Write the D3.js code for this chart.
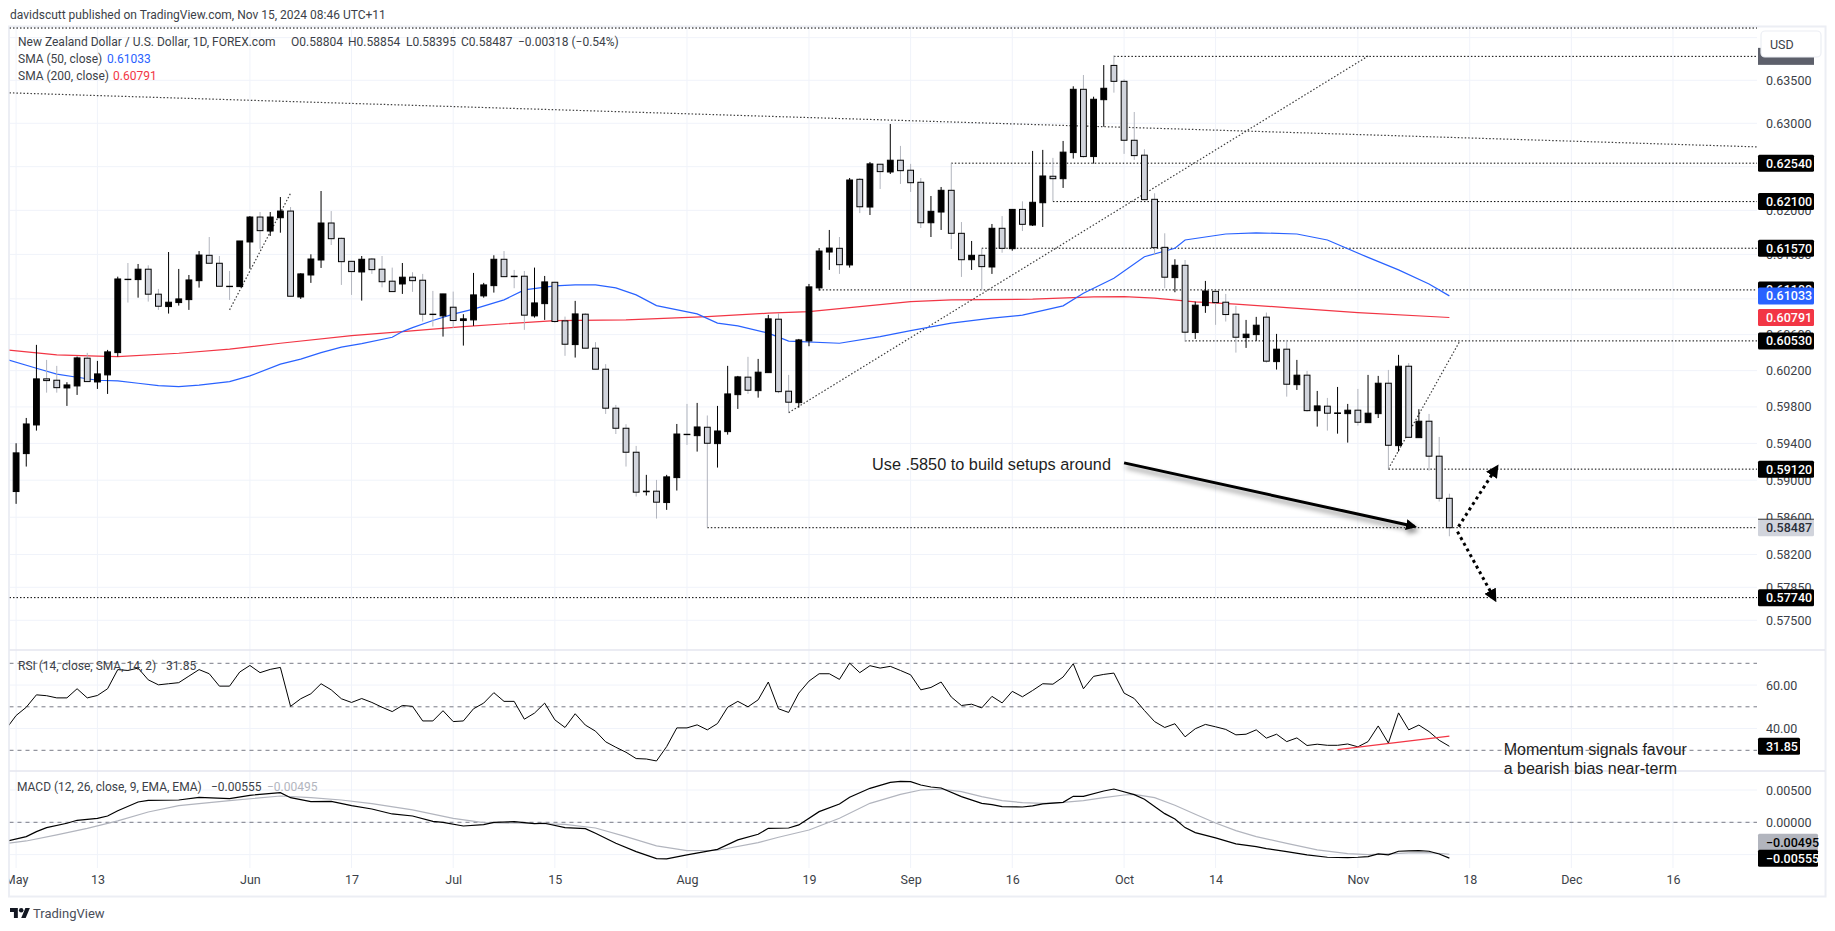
<!DOCTYPE html>
<html>
<head>
<meta charset="utf-8">
<title>NZD/USD</title>
<script src="https://cdn.jsdelivr.net/npm/d3@7/dist/d3.min.js"></script>
<style>
html, body { margin: 0; padding: 0; background: #fff; }
svg { display: block; }
text { font-family: Roboto, sans-serif; }
</style>
</head>
<body>
<svg id="chart" width="1835" height="931"></svg>
<script>
// daily candles, bar 0 = May 1 2024
var barOpen = [
	0.58877,0.59289,0.59602,0.60109,0.60094,0.60009,0.60031,0.60338,0.60075,0.60153,
	0.60400,0.61220,0.61216,0.61333,0.61052,0.60913,0.60958,0.60991,0.61204,0.61490,
	0.61400,0.61141,0.61137,0.61641,0.61924,0.61765,0.61916,0.61992,0.61021,0.61268,
	0.61437,0.61856,0.61682,0.61422,0.61302,0.61448,0.61333,0.61198,0.61167,0.61243,
	0.61209,0.60828,0.60809,0.60906,0.60757,0.60764,0.61033,0.61148,0.61445,0.61254,
	0.61254,0.60809,0.60946,0.61186,0.60753,0.60489,0.60828,0.60449,0.60216,0.59786,
	0.59566,0.59304,0.58875,0.58881,0.58758,0.59028,0.59500,0.59485,0.59577,0.59398,
	0.59529,0.59935,0.60128,0.59979,0.60178,0.60772,0.59973,0.59847,0.60530,0.61123,
	0.61527,0.61569,0.61381,0.62355,0.62038,0.62528,0.62439,0.62574,0.62459,0.62321,
	0.61859,0.61981,0.62229,0.61739,0.61440,0.61490,0.61358,0.61796,0.61565,0.62011,
	0.61833,0.62087,0.62390,0.62362,0.62662,0.63395,0.62616,0.63274,0.63674,0.63488,
	0.62804,0.62632,0.62126,0.61580,0.61238,0.61377,0.60623,0.60924,0.61084,0.60962,
	0.60828,0.60567,0.60600,0.60795,0.60300,0.60438,0.60045,0.60150,0.59759,0.59808,
	0.59728,0.59726,0.59764,0.59627,0.59726,0.60061,0.59376,0.60249,0.59463,0.59643,
	0.59261,0.58804
];
var barHigh = [
	0.59402,0.59679,0.60486,0.60319,0.60253,0.60072,0.60356,0.60397,0.60308,0.60430,
	0.61249,0.61403,0.61392,0.61377,0.61111,0.61527,0.61336,0.61268,0.61538,0.61697,
	0.61482,0.61313,0.61652,0.61935,0.61981,0.61981,0.62152,0.62038,0.61288,0.61501,
	0.62221,0.61992,0.61690,0.61426,0.61482,0.61460,0.61482,0.61351,0.61403,0.61299,
	0.61280,0.61089,0.61055,0.61081,0.60828,0.61291,0.61179,0.61490,0.61538,0.61325,
	0.61313,0.61351,0.61257,0.61190,0.60801,0.60977,0.60839,0.60516,0.60272,0.59822,
	0.59610,0.59373,0.59058,0.59003,0.59058,0.59613,0.59833,0.59844,0.59706,0.59811,
	0.60253,0.60142,0.60353,0.60330,0.60820,0.60839,0.60153,0.60552,0.61167,0.61572,
	0.61777,0.61697,0.62370,0.62370,0.62554,0.62532,0.62992,0.62739,0.62532,0.62370,
	0.62164,0.62267,0.62539,0.61867,0.61652,0.61569,0.61845,0.61935,0.62015,0.62103,
	0.62681,0.62693,0.62601,0.62796,0.63430,0.63562,0.63309,0.63678,0.63791,0.63512,
	0.63131,0.62701,0.62195,0.61739,0.61445,0.61437,0.60969,0.61201,0.61089,0.61055,
	0.60921,0.60764,0.60798,0.60846,0.60608,0.60541,0.60319,0.60197,0.59976,0.59899,
	0.60020,0.59833,0.59998,0.60153,0.60142,0.60208,0.60375,0.60283,0.59775,0.59723,
	0.59471,0.58854
];
var barLow = [
	0.58744,0.59148,0.59540,0.59957,0.59957,0.59811,0.59932,0.60075,0.59998,0.59943,
	0.60356,0.60958,0.61013,0.60969,0.60876,0.60835,0.60924,0.60876,0.61126,0.61400,
	0.61141,0.60988,0.61137,0.61339,0.61563,0.61709,0.61746,0.61029,0.60999,0.61179,
	0.61347,0.61606,0.61156,0.61044,0.60980,0.61280,0.61129,0.61081,0.61055,0.61078,
	0.60746,0.60690,0.60578,0.60675,0.60478,0.60698,0.61013,0.61070,0.61249,0.61119,
	0.60653,0.60790,0.60764,0.60731,0.60364,0.60345,0.60449,0.60216,0.59723,0.59503,
	0.59148,0.58823,0.58834,0.58585,0.58679,0.58888,0.59384,0.59311,0.58490,0.59137,
	0.59496,0.59778,0.59943,0.59902,0.60178,0.59951,0.59737,0.59792,0.60471,0.61092,
	0.61325,0.61280,0.61351,0.61969,0.61947,0.62244,0.62416,0.62302,0.62210,0.61799,
	0.61697,0.61777,0.61561,0.61246,0.61325,0.61100,0.61280,0.61519,0.61542,0.61765,
	0.61822,0.61811,0.62103,0.62256,0.62593,0.62604,0.62535,0.62961,0.63356,0.62647,
	0.62578,0.62118,0.61493,0.61119,0.61074,0.60522,0.60552,0.60843,0.60709,0.60746,
	0.60400,0.60452,0.60530,0.60289,0.60212,0.59913,0.59987,0.59748,0.59584,0.59540,
	0.59507,0.59409,0.59595,0.59627,0.59678,0.59123,0.59311,0.59467,0.59463,0.59104,
	0.58769,0.58395
];
var barClose = [
	0.59297,0.59613,0.60109,0.60090,0.60012,0.60042,0.60341,0.60079,0.60164,0.60408,
	0.61223,0.61216,0.61333,0.61052,0.60917,0.60962,0.60999,0.61212,0.61493,0.61400,
	0.61141,0.61137,0.61652,0.61924,0.61769,0.61924,0.61992,0.61029,0.61280,0.61448,
	0.61856,0.61678,0.61418,0.61306,0.61445,0.61328,0.61192,0.61081,0.61243,0.61204,
	0.60828,0.60824,0.61055,0.60757,0.60776,0.61044,0.61156,0.61445,0.61249,0.61249,
	0.60817,0.60954,0.61190,0.60746,0.60493,0.60831,0.60449,0.60216,0.59786,0.59566,
	0.59304,0.58870,0.58881,0.58762,0.59036,0.59503,0.59496,0.59580,0.59402,0.59536,
	0.59943,0.60131,0.59984,0.60183,0.60776,0.59968,0.59852,0.60541,0.61134,0.61538,
	0.61572,0.61384,0.62347,0.62041,0.62532,0.62443,0.62574,0.62454,0.62316,0.61859,
	0.61989,0.62229,0.61739,0.61440,0.61490,0.61362,0.61796,0.61569,0.62011,0.61841,
	0.62092,0.62393,0.62362,0.62667,0.63395,0.62616,0.63279,0.63407,0.63488,0.62804,
	0.62627,0.62122,0.61576,0.61243,0.61377,0.60627,0.60929,0.61088,0.60958,0.60824,
	0.60571,0.60605,0.60705,0.60305,0.60438,0.60050,0.60150,0.59759,0.59811,0.59731,
	0.59734,0.59764,0.59632,0.59731,0.60061,0.59380,0.60249,0.59467,0.59643,0.59261,
	0.58804,0.58487
];

var sma50Bars = [-1,2,4,6,8,10,12,14,16,18,21,23,26,28,30,32,34,37,38,39,41,43,45,48,50,53,55,57,59,61,63,67,69,71,74,76,81,85,88,92,96,99,103,105,108,111,114,115,119,122,126,129,133,136,139,141];
var sma50Vals = [0.60327,0.60227,0.60161,0.60127,0.60094,0.60087,0.60061,0.60034,0.60023,0.60039,0.60079,0.60142,0.60272,0.60327,0.60400,0.60460,0.60500,0.60571,0.60634,0.60678,0.60757,0.60828,0.60884,0.60988,0.61100,0.61145,0.61156,0.61156,0.61123,0.61044,0.60924,0.60831,0.60728,0.60698,0.60617,0.60527,0.60504,0.60578,0.60645,0.60728,0.60783,0.60817,0.60921,0.61063,0.61231,0.61474,0.61569,0.61663,0.61731,0.61745,0.61731,0.61663,0.61466,0.61325,0.61167,0.61033];
var sma200Bars = [-1,4,8,10,16,21,26,33,38,44,53,60,68,74,78,83,88,92,100,106,109,112,116,120,125,132,141];
var sma200Vals = [0.60430,0.60375,0.60361,0.60356,0.60393,0.60438,0.60504,0.60589,0.60634,0.60690,0.60757,0.60764,0.60801,0.60839,0.60857,0.60913,0.60969,0.60988,0.60996,0.61021,0.61025,0.61007,0.60965,0.60940,0.60902,0.60846,0.60791];

// first RSI value belongs to the bar before bar 0
var rsiVals = [
	39.7,46.0,49.8,55.5,55.1,54.1,54.1,58.3,54.1,55.2,58.3,67.1,66.7,67.8,62.4,60.1,60.6,61.1,64.1,67.1,
	65.2,59.5,59.5,66.0,69.0,65.7,67.2,68.1,50.2,53.7,56.0,60.6,57.8,53.7,52.0,53.8,52.0,49.8,47.8,50.6,
	50.2,43.5,43.5,48.2,43.2,43.5,49.1,51.7,56.5,52.5,52.5,44.3,47.1,51.7,44.0,40.5,46.8,41.6,38.8,33.9,
	31.4,29.1,26.2,26.0,25.1,31.7,40.3,40.3,41.7,39.4,42.3,49.8,52.5,50.0,53.2,61.4,49.1,47.4,56.3,61.8,
	65.2,65.2,62.6,70.1,65.7,68.9,67.8,68.6,66.7,64.7,57.8,58.9,61.4,54.5,50.6,51.2,49.5,54.8,51.8,57.1,
	54.6,57.5,60.6,60.4,63.7,69.8,58.3,64.0,64.9,65.5,56.3,53.8,48.3,43.2,40.5,42.2,36.2,39.9,41.9,40.8,
	39.6,37.1,37.4,39.4,35.6,37.4,34.0,35.7,32.2,32.8,32.3,32.3,32.9,31.6,34.0,41.2,33.3,47.2,39.4,41.6,
	38.6,34.6,31.85
];
var macdBars = [-1,1,2,3,5,6,8,9,10,12,13,16,18,21,23,26,27,29,31,33,35,37,39,41,42,44,46,47,49,51,52,54,56,57,59,61,63,64,66,69,71,73,74,76,77,79,81,82,84,86,87,88,89,90,91,93,95,96,97,99,100,101,103,104,105,107,108,110,111,113,114,115,116,118,120,122,123,125,127,129,131,132,133,134,135,136,137,138,139,140,141];
var macdVals = [-0.00294,-0.00222,-0.00144,-0.00082,-0.00015,0.00031,0.00062,0.00098,0.00180,0.00314,0.00340,0.00345,0.00387,0.00366,0.00418,0.00459,0.00381,0.00320,0.00325,0.00258,0.00206,0.00129,0.00098,0.00015,0,-0.00057,-0.00036,0,0.00010,-0.00021,-0.00015,-0.00082,-0.00098,-0.00170,-0.00325,-0.00454,-0.00562,-0.00567,-0.00505,-0.00418,-0.00273,-0.00186,-0.00093,-0.00088,-0.00041,0.00165,0.00284,0.00387,0.00526,0.00619,0.00634,0.00629,0.00577,0.00546,0.00531,0.00397,0.00294,0.00273,0.00242,0.00237,0.00253,0.00284,0.00309,0.00402,0.00402,0.00485,0.00515,0.00428,0.00356,0.00134,0.00052,-0.00082,-0.00160,-0.00242,-0.00335,-0.00376,-0.00407,-0.00454,-0.00505,-0.00541,-0.00546,-0.00541,-0.00531,-0.00490,-0.00505,-0.00448,-0.00443,-0.00438,-0.00448,-0.00490,-0.00555];
var signalBars = [-1,1,4,7,10,13,16,21,26,29,32,35,39,43,46,50,54,57,60,63,66,69,73,75,78,81,84,87,89,91,93,95,97,99,101,103,105,107,109,110,112,114,116,118,120,122,125,128,131,133,135,137,139,141];
var signalVals = [-0.00330,-0.00289,-0.00196,-0.00093,0.00021,0.00160,0.00258,0.00335,0.00407,0.00381,0.00345,0.00289,0.00191,0.00062,-0.00005,-0.00015,-0.00031,-0.00088,-0.00222,-0.00366,-0.00438,-0.00433,-0.00314,-0.00232,-0.00119,0.00062,0.00294,0.00433,0.00500,0.00515,0.00474,0.00397,0.00335,0.00304,0.00294,0.00309,0.00335,0.00381,0.00423,0.00433,0.00381,0.00263,0.00124,-0.00010,-0.00129,-0.00222,-0.00325,-0.00428,-0.00485,-0.00500,-0.00490,-0.00474,-0.00469,-0.00495];

var priceGrid = [0.64,0.635,0.63,0.625,0.62,0.615,0.61,0.606,0.602,0.598,0.594,0.59,0.586,0.582,0.5785,0.575];
var priceTicks = [0.635,0.63,0.62,0.615,0.61,0.606,0.602,0.598,0.594,0.59,0.586,0.582,0.5785,0.575];
var rsiTicks = [60,40];
var rsiBands = [70,50,30];
var macdGrid = [0.005,0,-0.005];
var macdTicks = [0.005,0];
var timeTickBars = [0,8,23,33,43,53,66,78,88,98,109,118,132,143,153,163];
var timeTickLabels = ["May","13","Jun","17","Jul","15","Aug","19","Sep","16","Oct","14","Nov","18","Dec","16"];

// horizontal levels drawn on the chart, from a start bar to the axis
var levelPrices = [0.6254,0.621,0.6157,0.611,0.6053,0.5912,0.5774];
var levelStarts = [92,102,95,79,115,135,-1];
var plainLevelPrices = [0.64113,0.6378,0.58487];
var plainLevelStarts = [-1,108,68];

// sloped lines: [bar, price, bar, price]
var trendLines = [
	[-1,0.63355,172,0.62725],
	[21,0.60876,27,0.62195],
	[76,0.59737,133,0.63783],
	[135,0.59123,142,0.60522]
];
var rsiTrend = [130,30.3,141,36.5];
var noteBar = 84.2;
var notePrice = 0.59177;
var solidArrow = [109,0.59188,137.6,0.58499];
var dottedArrows = [
	[141.9,0.58499,145.7,0.59148],
	[141.8,0.58445,145.5,0.57716]
];

var lastSma50 = 0.61033;
var lastSma200 = 0.60791;
var lastClose = 0.58487;
var lastRsi = 31.85;
var lastMacd = -0.00555;
var lastSignal = -0.00495;

var svg = d3.select("#chart");
var paneLeft = 9.5, paneRight = 1757, paneTop = 27, priceBottom = 650, rsiBottom = 771, macdBottom = 868, frameBottom = 896, frameRight = 1825;

var x = d3.scaleLinear().domain([0,163]).range([16.1, 16.1+163*10.165]);
var y = d3.scaleLog().domain([0.635,0.575]).range([80.3,620.3]);
var yRsi = d3.scaleLinear().domain([70,30]).range([663.3,750.3]);
var yMacd = d3.scaleLinear().domain([0.005,-0.005]).range([790,854.6]);

var defs = svg.append("defs");
function addClip(id, top, bottom) {
	defs.append("clipPath").attr("id", id).append("rect")
		.attr("x", paneLeft).attr("y", top)
		.attr("width", paneRight-paneLeft).attr("height", bottom-top);
}
addClip("clipPrice", paneTop, priceBottom);
addClip("clipRsi", priceBottom, rsiBottom);
addClip("clipMacd", rsiBottom, macdBottom);

var shadow = defs.append("filter").attr("id", "shadow")
	.attr("x", "-10%").attr("y", "-50%").attr("width", "120%").attr("height", "220%");
shadow.append("feDropShadow").attr("dx", 2).attr("dy", 4).attr("stdDeviation", 2.5)
	.attr("flood-color", "#000").attr("flood-opacity", 0.45);

function arrowMarker(id, size) {
	defs.append("marker").attr("id", id)
		.attr("viewBox", "0 0 10 10").attr("refX", 8).attr("refY", 5)
		.attr("markerUnits", "userSpaceOnUse")
		.attr("markerWidth", size).attr("markerHeight", size)
		.attr("orient", "auto")
		.append("path").attr("d", "M0,0L10,5L0,10z").attr("fill", "#000");
}
arrowMarker("headSolid", 11);
arrowMarker("headDotted", 13);

// grid
var gridColor = "#f0f3fa";
var grid = svg.append("g");
grid.selectAll("line.v").data(timeTickBars).enter().append("line")
	.attr("x1", function(d) { return x(d); }).attr("x2", function(d) { return x(d); })
	.attr("y1", paneTop).attr("y2", macdBottom)
	.attr("stroke", gridColor).attr("stroke-width", 1);
function hGrid(values, scale) {
	grid.selectAll(null).data(values).enter().append("line")
		.attr("x1", paneLeft).attr("x2", paneRight)
		.attr("y1", function(d) { return scale(d); }).attr("y2", function(d) { return scale(d); })
		.attr("stroke", gridColor).attr("stroke-width", 1);
}
hGrid(priceGrid, y);
hGrid(rsiTicks, yRsi);
hGrid(macdGrid, yMacd);

// outer frame and pane dividers
var frameColor = "#eceef4";
svg.append("rect").attr("x", paneLeft-0.5).attr("y", paneTop-0.5)
	.attr("width", frameRight-paneLeft+1).attr("height", frameBottom-paneTop+1)
	.attr("fill", "none").attr("stroke", frameColor).attr("stroke-width", 2);
[priceBottom, rsiBottom].forEach(function(d) {
	svg.append("line").attr("x1", paneLeft).attr("x2", frameRight).attr("y1", d).attr("y2", d)
		.attr("stroke", "#e4e6ef").attr("stroke-width", 1.5);
});

// price pane
var pricePane = svg.append("g").attr("clip-path", "url(#clipPrice)");

function drawLevels(prices, starts) {
	pricePane.selectAll(null).data(prices).enter().append("line")
		.attr("x1", function(d, i) { return Math.max(x(starts[i]), paneLeft); })
		.attr("x2", paneRight)
		.attr("y1", function(d) { return y(d); }).attr("y2", function(d) { return y(d); })
		.attr("stroke", "#000").attr("stroke-width", 1).attr("stroke-dasharray", "1.5 2");
}
drawLevels(levelPrices, levelStarts);
drawLevels(plainLevelPrices, plainLevelStarts);

pricePane.selectAll("line.trend").data(trendLines).enter().append("line")
	.attr("x1", function(d) { return x(d[0]); }).attr("y1", function(d) { return y(d[1]); })
	.attr("x2", function(d) { return x(d[2]); }).attr("y2", function(d) { return y(d[3]); })
	.attr("stroke", "#3c3c3c").attr("stroke-width", 1.2).attr("stroke-dasharray", "1.5 2");

var lineGen = d3.line();
function pathOf(bars, vals, scale) {
	return lineGen(bars.map(function(b, i) { return [x(b), scale(vals[i])]; }));
}
pricePane.append("path").attr("d", pathOf(sma200Bars, sma200Vals, y))
	.attr("fill", "none").attr("stroke", "#F23645").attr("stroke-width", 1.2);
pricePane.append("path").attr("d", pathOf(sma50Bars, sma50Vals, y))
	.attr("fill", "none").attr("stroke", "#2962FF").attr("stroke-width", 1.2);

// candles
var candles = pricePane.selectAll("g.candle").data(barOpen).enter().append("g")
	.attr("class", "candle");
candles.append("line")
	.attr("x1", function(d, i) { return x(i); }).attr("x2", function(d, i) { return x(i); })
	.attr("y1", function(d, i) { return y(barHigh[i]); })
	.attr("y2", function(d, i) { return y(barLow[i]); })
	.attr("stroke", function(d, i) { return barClose[i] >= d ? "#000" : "#b2b5be"; })
	.attr("stroke-width", 1);
candles.append("rect")
	.attr("x", function(d, i) { return x(i)-2.9; })
	.attr("width", 5.8)
	.attr("y", function(d, i) { return y(Math.max(d, barClose[i])); })
	.attr("height", function(d, i) { return Math.abs(y(d)-y(barClose[i])); })
	.attr("fill", function(d, i) { return barClose[i] >= d ? "#000" : "#d1d4dc"; })
	.attr("stroke", "#000").attr("stroke-width", 1);

// annotations on the price pane
pricePane.append("text").attr("x", x(noteBar)).attr("y", y(notePrice))
	.attr("dy", "0.35em").attr("fill", "#1e1e1e")
	.style("font-family", "'Liberation Sans', Arial, sans-serif").style("font-size", "16.3px")
	.text("Use .5850 to build setups around");
pricePane.append("line")
	.attr("x1", x(solidArrow[0])).attr("y1", y(solidArrow[1]))
	.attr("x2", x(solidArrow[2])).attr("y2", y(solidArrow[3]))
	.attr("stroke", "#000").attr("stroke-width", 3)
	.attr("marker-end", "url(#headSolid)").attr("filter", "url(#shadow)");
pricePane.selectAll("line.dotarrow").data(dottedArrows).enter().append("line")
	.attr("x1", function(d) { return x(d[0]); }).attr("y1", function(d) { return y(d[1]); })
	.attr("x2", function(d) { return x(d[2]); }).attr("y2", function(d) { return y(d[3]); })
	.attr("stroke", "#000").attr("stroke-width", 3).attr("stroke-dasharray", "3 3.5")
	.attr("marker-end", "url(#headDotted)");

// RSI pane
var rsiPane = svg.append("g").attr("clip-path", "url(#clipRsi)");
rsiPane.selectAll("line.band").data(rsiBands).enter().append("line")
	.attr("x1", paneLeft).attr("x2", paneRight)
	.attr("y1", function(d) { return yRsi(d); }).attr("y2", function(d) { return yRsi(d); })
	.attr("stroke", "#787b86").attr("stroke-width", 1).attr("stroke-dasharray", "4 4");
rsiPane.append("path")
	.attr("d", pathOf(rsiVals.map(function(d, i) { return i-1; }), rsiVals, yRsi))
	.attr("fill", "none").attr("stroke", "#000").attr("stroke-width", 1);
rsiPane.append("line")
	.attr("x1", x(rsiTrend[0])).attr("y1", yRsi(rsiTrend[1]))
	.attr("x2", x(rsiTrend[2])).attr("y2", yRsi(rsiTrend[3]))
	.attr("stroke", "#F23645").attr("stroke-width", 1.2);

// MACD pane
var macdPane = svg.append("g").attr("clip-path", "url(#clipMacd)");
macdPane.append("line").attr("x1", paneLeft).attr("x2", paneRight)
	.attr("y1", yMacd(0)).attr("y2", yMacd(0))
	.attr("stroke", "#787b86").attr("stroke-width", 1).attr("stroke-dasharray", "4 4");
macdPane.append("path").attr("d", pathOf(signalBars, signalVals, yMacd))
	.attr("fill", "none").attr("stroke", "#b2b5be").attr("stroke-width", 1.2);
macdPane.append("path").attr("d", pathOf(macdBars, macdVals, yMacd))
	.attr("fill", "none").attr("stroke", "#000").attr("stroke-width", 1.2);

// right and bottom axes
var axisColor = "#3c3f48";
var axisFont = "12.5px";
var axisX = 1766;
function styleAxis(g) {
	g.select(".domain").remove();
	g.selectAll("text").attr("fill", axisColor).style("font-size", axisFont);
}
svg.append("g").attr("transform", "translate("+axisX+",0)")
	.call(d3.axisRight(y).tickValues(priceTicks).tickSize(0).tickPadding(0).tickFormat(d3.format(".5f")))
	.call(styleAxis);
svg.append("g").attr("transform", "translate("+axisX+",0)")
	.call(d3.axisRight(yRsi).tickValues(rsiTicks).tickSize(0).tickPadding(0).tickFormat(d3.format(".2f")))
	.call(styleAxis);
svg.append("g").attr("transform", "translate("+axisX+",0)")
	.call(d3.axisRight(yMacd).tickValues(macdTicks).tickSize(0).tickPadding(0).tickFormat(d3.format(".5f")))
	.call(styleAxis);

defs.append("clipPath").attr("id", "clipTime").append("rect")
	.attr("x", paneLeft).attr("y", 0).attr("width", frameRight-paneLeft).attr("height", 20);
svg.append("g").attr("transform", "translate(0,875)")
	.attr("clip-path", "url(#clipTime)")
	.call(d3.axisBottom(x).tickValues(timeTickBars).tickSize(0).tickPadding(0)
		.tickFormat(function(d, i) { return timeTickLabels[i]; }))
	.call(styleAxis);

// value labels on the axis, shift moves a box clear of its neighbour
function axisBox(value, scale, fill, textFill, label, boxWidth, shift) {
	var cy = scale(value)+(shift || 0);
	svg.append("rect").attr("x", 1758).attr("y", cy-8.5).attr("width", boxWidth).attr("height", 17)
		.attr("rx", 1.5).attr("fill", fill);
	svg.append("text").attr("x", axisX).attr("y", cy).attr("dy", "0.36em")
		.attr("fill", textFill).style("font-size", axisFont).style("font-weight", 500)
		.text(label);
}
var fmtPrice = d3.format(".5f");
// the label of the top level only peeks out from under the USD button
svg.append("rect").attr("x", 1758).attr("y", y(0.6378)-8.5).attr("width", 56).attr("height", 17)
	.attr("fill", "#5d606b");
levelPrices.forEach(function(d) {
	axisBox(d, y, "#000", "#fff", fmtPrice(d), 56);
});
axisBox(lastSma50, y, "#2962FF", "#fff", fmtPrice(lastSma50), 56);
axisBox(lastSma200, y, "#F23645", "#fff", fmtPrice(lastSma200), 56);
axisBox(lastClose, y, "#d1d4dc", "#2a2e39", fmtPrice(lastClose), 56);
svg.append("line").attr("x1", 1758).attr("x2", 1814).attr("y1", y(lastClose)-8.5).attr("y2", y(lastClose)-8.5)
	.attr("stroke", "#000").attr("stroke-width", 0.8);
axisBox(lastRsi, yRsi, "#000", "#fff", d3.format(".2f")(lastRsi), 42);
axisBox(lastSignal, yMacd, "#b2b5be", "#000", fmtPrice(lastSignal), 60, -12);
axisBox(lastMacd, yMacd, "#000", "#fff", fmtPrice(lastMacd), 60);

// USD button
svg.append("rect").attr("x", 1761).attr("y", 31).attr("width", 60).attr("height", 26).attr("rx", 4)
	.attr("fill", "#fff").attr("stroke", "#eceef4").attr("stroke-width", 1.2);
svg.append("text").attr("x", 1770).attr("y", 44).attr("dy", "0.36em")
	.attr("fill", axisColor).style("font-size", axisFont).text("USD");

// legend text
function legend(parts, ty) {
	parts.forEach(function(p) {
		svg.append("text").attr("x", p[0]).attr("y", ty).attr("dy", "0.36em")
			.attr("fill", p[2] || axisColor).style("font-size", "12px").text(p[1]);
	});
}
legend([[10,"davidscutt published on TradingView.com, Nov 15, 2024 08:46 UTC+11"]], 15);
legend([[18,"New Zealand Dollar / U.S. Dollar, 1D, FOREX.com"],[291,"O0.58804"],[348,"H0.58854"],[406,"L0.58395"],[461,"C0.58487"],[518,"\u22120.00318 (\u22120.54%)"]], 41.7);
legend([[18,"SMA (50, close)"],[107,"0.61033","#2962FF"]], 58.7);
legend([[18,"SMA (200, close)"],[113,"0.60791","#F23645"]], 76);
legend([[18,"RSI (14, close, SMA, 14, 2)"],[166,"31.85"]], 665.7);
legend([[17,"MACD (12, 26, close, 9, EMA, EMA)"],[211,"\u22120.00555"],[267,"\u22120.00495","#b2b5be"]], 786.7);

// momentum note sits across the RSI and MACD divider
var noteX = 1503.7;
["Momentum signals favour","a bearish bias near-term"].forEach(function(t, i) {
	svg.append("text").attr("x", noteX).attr("y", 749.3+i*19.4).attr("dy", "0.35em")
		.attr("fill", "#1e1e1e")
		.style("font-family", "'Liberation Sans', Arial, sans-serif").style("font-size", "16px")
		.text(t);
});

// TradingView footer
var logo = svg.append("g").attr("transform", "translate(10,905.8) scale(0.56)").attr("fill", "#131722");
logo.append("path").attr("d", "M14 22H7V11H0V4h14v18zM28 22h-8l7.5-18h8L28 22z");
logo.append("circle").attr("cx", 20).attr("cy", 8).attr("r", 4);
svg.append("text").attr("x", 33).attr("y", 913).attr("dy", "0.36em")
	.attr("fill", "#4a4e59").style("font-size", "13px").text("TradingView");
</script>
</body>
</html>
